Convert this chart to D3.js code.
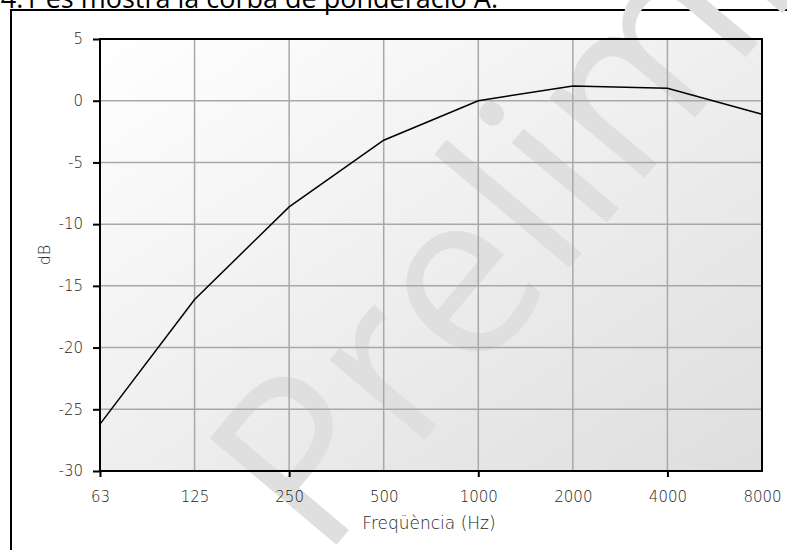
<!DOCTYPE html>
<html><head><meta charset="utf-8">
<script src="https://cdn.jsdelivr.net/npm/d3@7"></script>
<style>
html,body{margin:0;padding:0;background:#fff;overflow:hidden}
svg{display:block}
</style></head>
<body>
<svg id="chart" width="787" height="550"></svg>
<script>
const frequencies = ["63","125","250","500","1000","2000","4000","8000"];
const weightingDb = [-26.2, -16.1, -8.6, -3.2, 0, 1.2, 1.0, -1.1];
const yTicks = [5, 0, -5, -10, -15, -20, -25, -30];
const majorXTicks = ["63","250","1000","4000"];
const introText = "4.1 es mostra la corba de ponderació A.";
const watermarkText = "Preliminar";
const xTitle = "Freqüència (Hz)";
const yTitle = "dB";

const W = 787, H = 550;
const m = {left:100, top:39, right:762, bottom:471};
const svg = d3.select("#chart");
const labelFont = "'DejaVu Sans', Verdana, sans-serif";
const labelColor = "#1e1e1e";

const x = d3.scalePoint().domain(frequencies).range([m.left, m.right]).padding(0);
const y = d3.scaleLinear().domain([-30, 5]).range([m.bottom, m.top]);

const defs = svg.append("defs");
const grad = defs.append("linearGradient").attr("id","bg")
  .attr("x1","0").attr("y1","0").attr("x2","1").attr("y2","1");
grad.append("stop").attr("offset","0").attr("stop-color","#ffffff");
grad.append("stop").attr("offset","1").attr("stop-color","#dedede");

// intro text (cut at top, as in the reference)
svg.append("text").attr("x", 498).attr("y", 8).attr("text-anchor","end")
  .attr("font-family","'Open Sans', 'Noto Sans', sans-serif").attr("font-size", 27)
  .attr("fill","#000").text(introText);

// outer box
svg.append("rect").attr("x", 11).attr("y", 10).attr("width", W).attr("height", H)
  .attr("fill","none").attr("stroke","#000").attr("stroke-width", 2);

// plot background
svg.append("rect").attr("x", m.left).attr("y", m.top)
  .attr("width", m.right - m.left).attr("height", m.bottom - m.top)
  .attr("fill","url(#bg)");

// watermark
svg.append("text").attr("transform","translate(322,562) rotate(-50)")
  .attr("font-family","'Open Sans', sans-serif").attr("font-size", 232)
  .attr("fill","#dfdfdf").text(watermarkText);

// grid
const grid = svg.append("g").attr("stroke","#a8a8a8").attr("stroke-width",1.5);
grid.selectAll("line.v").data(frequencies.slice(1, -1)).join("line")
  .attr("x1", d => x(d)).attr("x2", d => x(d)).attr("y1", m.top).attr("y2", m.bottom);
grid.selectAll("line.h").data(yTicks.slice(1, -1)).join("line")
  .attr("x1", m.left).attr("x2", m.right).attr("y1", d => y(d)).attr("y2", d => y(d));

// curve
svg.append("path").datum(frequencies.map((f,i)=>[f, weightingDb[i]]))
  .attr("fill","none").attr("stroke","#000").attr("stroke-width",1.5)
  .attr("d", d3.line().x(d => x(d[0])).y(d => y(d[1])));

// border
svg.append("rect").attr("x", m.left).attr("y", m.top)
  .attr("width", m.right - m.left).attr("height", m.bottom - m.top)
  .attr("fill","none").attr("stroke","#000").attr("stroke-width",2);

// y axis
const yAxis = svg.append("g").attr("transform", `translate(${m.left},0)`)
  .call(d3.axisLeft(y).tickValues(yTicks).tickSize(7).tickPadding(10).tickFormat(d => String(d)));
yAxis.select(".domain").remove();
yAxis.selectAll(".tick line").attr("stroke","#000").attr("stroke-width",2);
yAxis.selectAll(".tick text").attr("font-family", labelFont).attr("font-size",15)
  .attr("font-weight",200).attr("fill",labelColor);

// x axis
const xAxis = svg.append("g").attr("transform", `translate(0,${m.bottom})`)
  .call(d3.axisBottom(x).tickSize(0).tickPadding(20));
xAxis.select(".domain").remove();
xAxis.selectAll(".tick text").attr("font-family", labelFont).attr("font-size",15)
  .attr("font-weight",200).attr("fill",labelColor);
xAxis.selectAll(".tick").filter(d => majorXTicks.includes(d)).append("line")
  .attr("y1", 0).attr("y2", 6).attr("stroke","#000").attr("stroke-width",2);

// titles
svg.append("text").attr("x", 429).attr("y", 529).attr("text-anchor","middle")
  .attr("font-family", labelFont).attr("font-size",17).attr("font-weight",200).attr("fill",labelColor)
  .text(xTitle);
svg.append("text").attr("transform", `translate(50,${(m.top+m.bottom)/2}) rotate(-90)`)
  .attr("text-anchor","middle").attr("font-family", labelFont).attr("font-size",16)
  .attr("font-weight",200).attr("fill",labelColor).text(yTitle);
</script>
</body></html>
